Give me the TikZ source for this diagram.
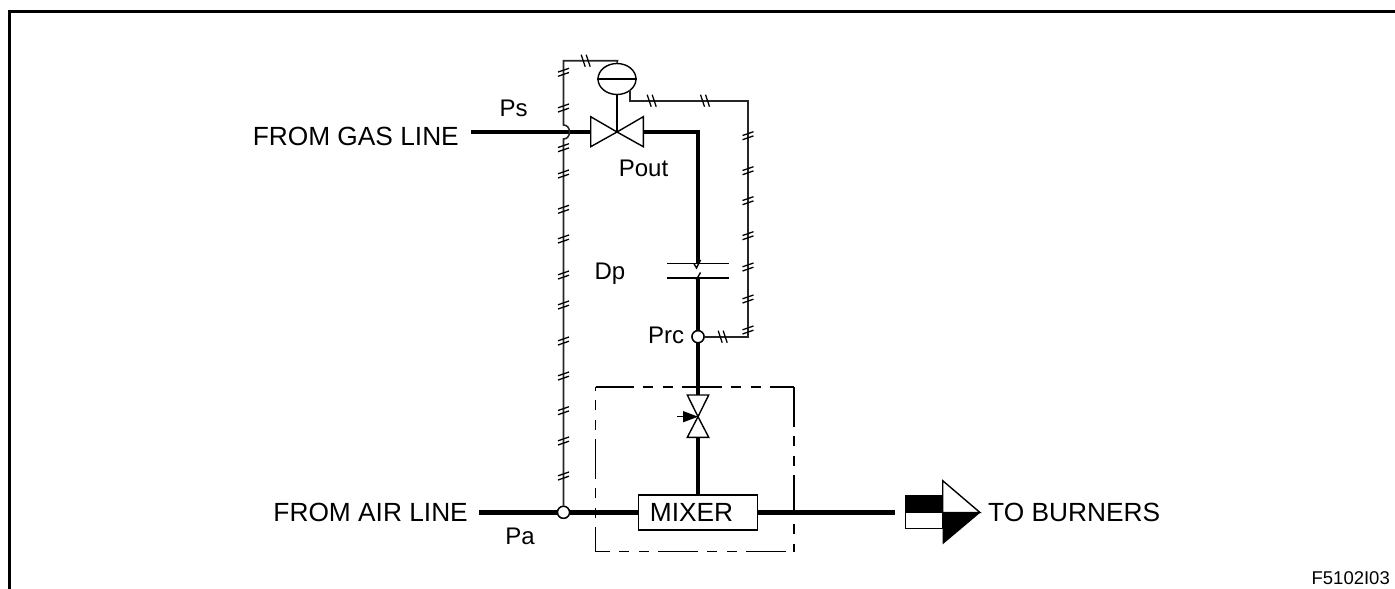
\documentclass[tikz,border=0pt]{standalone}
\usepackage{fontspec}
\setmainfont{Liberation Sans}
\usetikzlibrary{shapes.geometric}
\newcommand{\bigtxt}{\fontsize{26.3}{26.3}\selectfont}
\newcommand{\midtxt}{\fontsize{24}{24}\selectfont}
\newcommand{\smalltxt}{\fontsize{18.5}{18.5}\selectfont}
\tikzset{
  x=1pt,y=-1pt,
  pipe/.style={line width=4.4pt},
  tube/.style={line width=1.6pt,draw=black!85},
  thinline/.style={line width=1.4pt},
  junction/.style={circle,draw,fill=white,line width=1.4pt,minimum size=12pt,inner sep=0pt},
  actuator/.style={ellipse,draw,fill=white,line width=1.4pt,minimum width=38pt,minimum height=31pt,inner sep=0pt},
  mixerbox/.style={rectangle,draw,fill=white,line width=1.4pt,minimum width=119pt,minimum height=35pt,inner sep=0pt},
  lbl/.style={inner sep=0pt,font=\midtxt},
  biglbl/.style={inner sep=0pt,font=\bigtxt},
  dashbox/.style={line width=1.3pt,dash pattern=on 40pt off 9pt on 10pt off 10pt on 10pt off 9pt},
  vt/.pic={\draw[line width=1.3pt] (-5.5,-0.2)--(5.5,-4) (-5.5,4)--(5.5,0.2);},
  ht/.pic={\draw[line width=1.3pt] (-4.5,-6)--(-0.5,6) (0.5,-6)--(4.5,6);}
}
\begin{document}
\begin{tikzpicture}
\useasboundingbox (0,0) rectangle (1395,589);
% frame
\draw[line width=2.7pt] (9.6,589)--(9.6,11.3)--(1395,11.3);
% named points
\coordinate (gasin) at (471,132);
\coordinate (vc) at (617,132);
\coordinate (bend) at (698,132);
\coordinate (airin) at (479,512.3);
\coordinate (burn) at (895,512.3);
\coordinate (vlc) at (698,416.7);
\coordinate (tl) at (563.5,60.7);
\coordinate (tm) at (617.5,60.7);
\coordinate (ra) at (630,100.7);
\coordinate (rb) at (748,100.7);
\coordinate (rc) at (748,336.7);
\coordinate (ja) at (563.5,125);
\coordinate (jb) at (563.5,139);
% pipes
\node[junction] (prc) at (698,336.7) {};
\node[junction] (pa) at (563.5,512.3) {};
\node[mixerbox] (mix) at (698.2,512.3) {};
\draw[pipe] (gasin)--(590.7,132);
\draw[pipe,line join=miter] (643.3,132)--(bend)--(698,262.5);
\draw[pipe] (698,279)--(prc);
\draw[pipe] (prc)--(698,395);
\draw[pipe] (698,437.3)--(mix.north-|vlc);
\draw[pipe] (airin)--(pa)--(mix.west);
\draw[pipe] (mix.east)--(burn);
\node[junction] at (prc) {};
\node[junction] at (pa) {};
% orifice
\draw[thinline] (667,263.7)--(729,263.7) (667,278)--(729,278);
\draw[line width=1.4pt] (694,263.7)--(696.5,268)--(700.5,260);
\draw[line width=1.4pt] (700.5,272.5)--(696.2,280);
% impulse tubes
\node[actuator] (act) at (617,79) {};
\draw[tube] (pa.north)--(jb) .. controls (571.5,139) and (571.5,125) .. (ja)--(tl)--(tm)--(act.north);
\draw[tube] (630,90)--(ra)--(rb)--(rc)--(prc.east);
% valve
\draw[thinline,fill=white] (vc)--(590.7,116.7)--(590.7,146.7)--cycle;
\draw[thinline,fill=white] (vc)--(643.3,116.7)--(643.3,146.7)--cycle;
\draw[thinline] (act.south)--(vc);
\draw[thinline] (act.west)--(act.east);
% lower valve
\draw[thinline,fill=white] (vlc)--(687.3,395)--(708.7,395)--cycle;
\draw[thinline,fill=white] (vlc)--(687.3,437.3)--(708.7,437.3)--cycle;
\draw[thinline] (677.3,416.7)--(684,416.7);
\fill (683,411)--(vlc)--(683,422.4)--cycle;
% ticks
\foreach \y in {72.3,108,147.7,174,209.3,239,275,305,341,376,410.7,441,476}
  \pic at (563.5,\y) {vt};
\foreach \y in {135.7,170.7,200.7,235.7,267,299,330}
  \pic at (748,\y) {vt};
\foreach \x/\y in {585.7/60.7,651.7/100.7,705/100.7,722.7/336.7}
  \pic at (\x,\y) {ht};
% dashed box
\draw[dashbox,dash phase=25.7pt] (595.7,551.7)--(794,551.7);
\draw[dashbox,dash phase=2pt] (595.7,387)--(794,387);
\draw[dashbox,dash phase=15pt] (595.7,551.7)--(595.7,387);
\draw[dashbox,dash phase=0pt] (794,387)--(794,551.7);
% outlet symbol
\node[inner sep=0pt,anchor=center,font=\bigtxt] (mixt) at (691.5,512.5) {MIXER};
\fill (905.7,496)rectangle(942.7,512.5);
\draw[thinline] (905.7,496)rectangle(942.7,528.3);
\draw[thinline,fill=white] (942.7,480.7)--(980,512.5)--(942.7,512.5)--cycle;
\fill (942.7,544.3)--(980.5,512.5)--(942.7,512.5)--cycle;
% labels
\node[biglbl,anchor=east] (g) at (459,136) {FROM GAS LINE};
\node[biglbl,anchor=east] (a) at (468,512.5) {FROM AIR LINE};
\node[biglbl,anchor=west] (b) at (988,512.5) {TO BURNERS};
\node[lbl] (ps) at (513.5,108) {Ps};
\node[lbl] (po) at (643.5,168) {Pout};
\node[lbl] (dp) at (610,274) {Dp};
\node[lbl] (pr) at (666,335) {Prc};
\node[lbl] (pal) at (520,536) {Pa};
\node[anchor=east,inner sep=0pt,font=\smalltxt] (f) at (1390,578) {F5102I03};
\end{tikzpicture}
\end{document}
